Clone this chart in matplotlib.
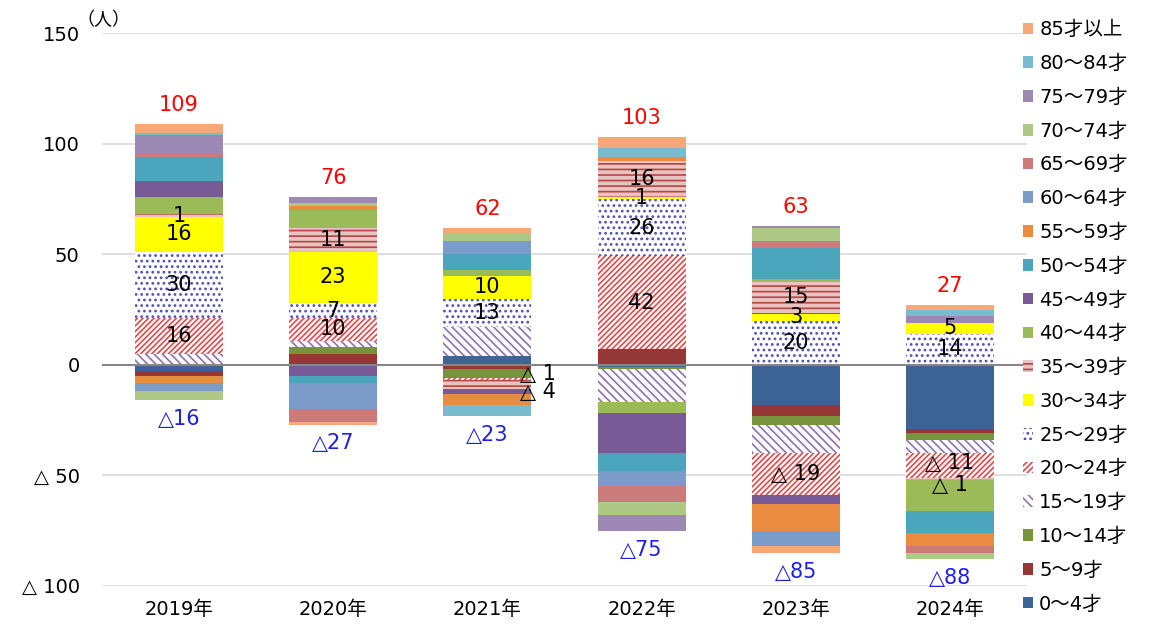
import matplotlib.pyplot as plt
import numpy as np

plt.rcParams['font.family'] = ['DejaVu Sans', 'Noto Sans CJK JP']
plt.rcParams['hatch.linewidth'] = 1.2

years = ['2019年', '2020年', '2021年', '2022年', '2023年', '2024年']
groups = ['0～4才', '5～9才', '10～14才', '15～19才', '20～24才', '25～29才',
          '30～34才', '35～39才', '40～44才', '45～49才', '50～54才', '55～59才',
          '60～64才', '65～69才', '70～74才', '75～79才', '80～84才', '85才以上']

# net change per age group, 2019..2024 (negative = decrease)
g0_4 = [-3, 0, 4, -1, -18, -29]
g5_9 = [-2, 5, -2, 7, -5, -2]
g10_14 = [0, 3, -4, -1, -4, -3]
g15_19 = [5, 3, 13, -15, -13, -6]
g20_24 = [16, 10, -1, 42, -19, -11]
g25_29 = [30, 7, 13, 26, 20, 14]
g30_34 = [16, 23, 10, 1, 3, 5]
g35_39 = [1, 11, -4, 16, 15, -1]
g40_44 = [8, 8, 3, -5, 1, -14]
g45_49 = [7, -5, -2, -18, -4, 0]
g50_54 = [11, -3, 7, -8, 14, -10]
g55_59 = [-3, 2, -5, 2, -12, -6]
g60_64 = [-4, -12, 6, -7, -7, 0]
g65_69 = [2, -6, 0, -7, 3, -3]
g70_74 = [-4, 1, 3, -6, 6, -3]
g75_79 = [8, 3, 0, -7, 1, 3]
g80_84 = [1, 0, -5, 4, 0, 3]
g85 = [4, -1, 3, 5, -3, 2]

series = [g0_4, g5_9, g10_14, g15_19, g20_24, g25_29, g30_34, g35_39, g40_44,
          g45_49, g50_54, g55_59, g60_64, g65_69, g70_74, g75_79, g80_84, g85]

# (facecolor, hatch colour, hatch)
styles = [
    ('#3C6496', None, None),
    ('#953735', None, None),
    ('#77933C', None, None),
    ('white', '#8E72B0', '\\\\\\\\'),
    ('white', '#E8474A', '//////'),
    ('white', '#5050B8', '...'),
    ('#FFFF00', None, None),
    ('#E9C3C2', '#B24744', '---'),
    ('#9BBB59', None, None),
    ('#775A96', None, None),
    ('#4BA5BC', None, None),
    ('#E98C42', None, None),
    ('#7B9BC8', None, None),
    ('#CB7B7A', None, None),
    ('#ADC985', None, None),
    ('#9C88B5', None, None),
    ('#79BBCF', None, None),
    ('#F6A978', None, None),
]
labelled = [4, 5, 6, 7]

fig = plt.figure(figsize=(11.52, 6.26), dpi=100)
ax = fig.add_axes([0.0885, 0.064, 0.803, 0.883])

x = np.arange(len(years))
w = 0.57
pos_base = np.zeros(len(years))
neg_base = np.zeros(len(years))
handles = []
for i, vals in enumerate(series):
    v = np.array(vals, dtype=float)
    bottom = np.where(v >= 0, pos_base, neg_base)
    fc, hc, hatch = styles[i]
    b = ax.bar(x, v, w, bottom=bottom, color=fc, edgecolor=hc if hc else fc,
               linewidth=0, hatch=hatch, label=groups[i], zorder=2)
    handles.append(b)
    if i in labelled:
        for j in range(len(years)):
            if v[j] == 0:
                continue
            yc = bottom[j] + v[j] / 2
            txt = str(int(v[j])) if v[j] > 0 else '△ ' + str(int(-v[j]))
            dx = 0.0
            if j == 2 and v[j] < 0:
                # 2021 small decreases: labels moved beside the bar
                dx = 0.33
                yc += 2.5 if i == 4 else -3.5
            if j == 5 and i == 4:
                yc += 1.0
            if j == 5 and i == 7:
                yc -= 3.0
            ax.text(x[j] + dx, yc, txt, ha='center', va='center',
                    fontsize=15, color='black', zorder=4)
    pos_base = pos_base + np.where(v >= 0, v, 0)
    neg_base = neg_base + np.where(v < 0, v, 0)

for j in range(len(years)):
    ax.text(x[j], pos_base[j] + 4, str(int(pos_base[j])), ha='center', va='bottom',
            fontsize=15, color='#FF0000')
    ax.text(x[j], neg_base[j] - 4, '△' + str(int(-neg_base[j])), ha='center', va='top',
            fontsize=15, color='#1F1FE6')

ax.set_xlim(-0.5, len(years) - 0.5)
ax.set_ylim(-100, 150)
ax.set_yticks([150, 100, 50, 0, -50, -100])
ax.set_yticklabels(['150', '100', '50', '0', '△ 50', '△ 100'], fontsize=14)
ax.set_xticks(x)
ax.set_xticklabels(years, fontsize=14)
ax.tick_params(length=0, pad=16)
ax.tick_params(axis='x', pad=10)
for s in ax.spines.values():
    s.set_visible(False)
ax.yaxis.grid(True, color='#D9D9D9', linewidth=1.2, zorder=0)
ax.set_axisbelow(True)
ax.axhline(0, color='#868686', linewidth=1.5, zorder=3)
fig.text(0.066, 0.954, '（人）', fontsize=13, va='bottom', ha='left')

leg = fig.legend(handles[::-1], groups[::-1], loc='upper left',
                 bbox_to_anchor=(0.881, 0.98), frameon=False, fontsize=14,
                 handlelength=0.55, handleheight=0.55, handletextpad=0.3,
                 labelspacing=0.76, borderaxespad=0)

fig.savefig('out.png', dpi=100)
